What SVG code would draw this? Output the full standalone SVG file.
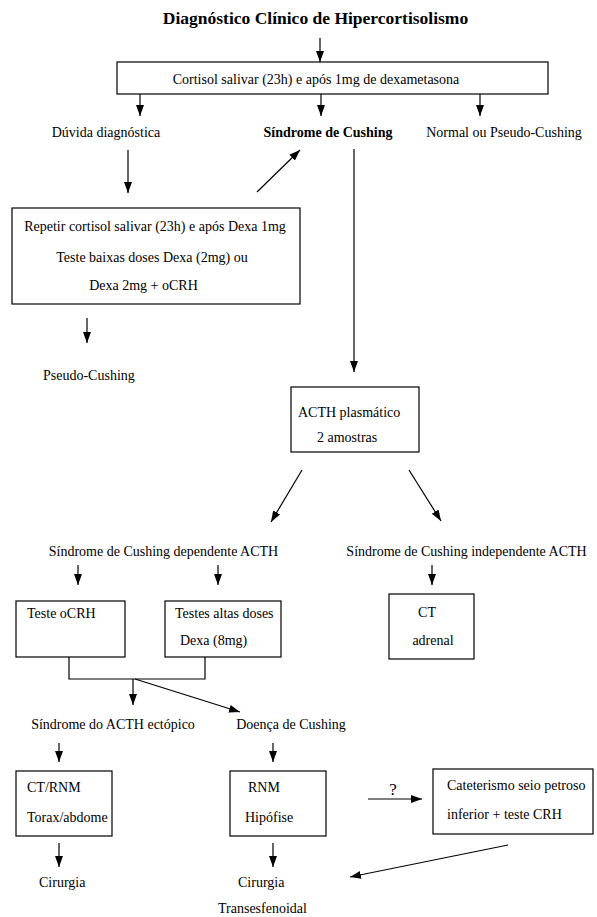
<svg xmlns="http://www.w3.org/2000/svg" width="597" height="917" viewBox="0 0 597 917">
<defs>
<marker id="ah" markerUnits="userSpaceOnUse" markerWidth="11" markerHeight="10" viewBox="0 0 11 10" refX="11" refY="5" orient="auto">
<path d="M0,1 L11,5 L0,9 Z" fill="#000"/>
</marker>
<style>
text{font-family:"Liberation Serif","Times New Roman",serif;font-size:14px;fill:#000}
.b{font-weight:bold}
.m{text-anchor:middle}
rect{fill:#fff;stroke:#000;stroke-width:1.2}
.c line,.c polyline{stroke:#000;stroke-width:1.2;fill:none}
.a{marker-end:url(#ah)}
</style>
</defs>
<rect x="0" y="0" width="597" height="917" style="fill:#fff;stroke:none"/>
<text class="b m" x="315.5" y="24" style="font-size:17.5px">Diagnóstico Clínico de Hipercortisolismo</text>
<g class="c" id="connectors">
<line class="a" x1="320" y1="38" x2="320" y2="62"/>
<line class="a" x1="140" y1="94" x2="140" y2="116"/>
<line class="a" x1="321" y1="94" x2="321" y2="116"/>
<line class="a" x1="480" y1="94" x2="480" y2="116"/>
<line class="a" x1="128" y1="150" x2="128" y2="193"/>
<line class="a" x1="257" y1="192" x2="300" y2="150"/>
<line class="a" x1="354" y1="149" x2="354" y2="372"/>
<line class="a" x1="87" y1="318" x2="87" y2="343"/>
<line class="a" x1="302" y1="470" x2="271" y2="522"/>
<line class="a" x1="409" y1="470" x2="441" y2="521"/>
<line class="a" x1="78" y1="565" x2="78" y2="585"/>
<line class="a" x1="218" y1="565" x2="218" y2="585"/>
<line class="a" x1="432" y1="565" x2="432" y2="585"/>
<polyline points="69,657 69,679 205,679 205,657"/>
<line class="a" x1="133" y1="679" x2="133" y2="705"/>
<line class="a" x1="135" y1="679" x2="240" y2="712"/>
<line class="a" x1="59" y1="743" x2="59" y2="762"/>
<line class="a" x1="273" y1="743" x2="273" y2="762"/>
<line class="a" x1="368" y1="799" x2="422" y2="799"/>
<line class="a" x1="59" y1="843" x2="59" y2="867"/>
<line class="a" x1="273" y1="843" x2="273" y2="867"/>
<line class="a" x1="508" y1="845" x2="350" y2="877"/>
</g>
<g id="n-cortisol"><rect x="117" y="62" width="431" height="32"/><text class="m" x="316" y="84">Cortisol salivar (23h) e após 1mg de dexametasona</text></g>
<g id="n-duvida"><text class="m" x="106" y="137">Dúvida diagnóstica</text></g>
<g id="n-sindrome"><text class="b m" x="328" y="137">Síndrome de Cushing</text></g>
<g id="n-normal"><text class="m" x="504" y="137">Normal ou Pseudo-Cushing</text></g>
<g id="n-repetir"><rect x="12" y="208" width="288" height="96"/>
<text class="m" x="155" y="231">Repetir cortisol salivar (23h) e após Dexa 1mg</text>
<text class="m" x="152" y="262">Teste baixas doses Dexa (2mg) ou</text>
<text class="m" x="143.5" y="290">Dexa 2mg + oCRH</text></g>
<g id="n-pseudo"><text x="43" y="380">Pseudo-Cushing</text></g>
<g id="n-acth"><rect x="291" y="387" width="128" height="65"/>
<text x="298" y="417">ACTH plasmático</text>
<text x="317" y="442">2 amostras</text></g>
<g id="n-dep"><text class="m" x="163.5" y="556">Síndrome de Cushing dependente ACTH</text></g>
<g id="n-indep"><text class="m" x="466.5" y="556">Síndrome de Cushing independente ACTH</text></g>
<g id="n-ocrh"><rect x="16" y="601" width="109" height="56"/><text x="27" y="618">Teste oCRH</text></g>
<g id="n-altas"><rect x="165" y="601" width="116" height="56"/><text x="175" y="618">Testes altas doses</text><text x="180" y="645">Dexa (8mg)</text></g>
<g id="n-ct"><rect x="389" y="594" width="85" height="65"/><text class="m" x="427" y="617">CT</text><text class="m" x="433" y="645">adrenal</text></g>
<g id="n-ectopico"><text class="m" x="113" y="729">Síndrome do ACTH ectópico</text></g>
<g id="n-doenca"><text class="m" x="291" y="729">Doença de Cushing</text></g>
<g id="n-ctrnm"><rect x="16" y="771" width="96" height="65"/><text x="27" y="792">CT/RNM</text><text x="27" y="822">Torax/abdome</text></g>
<g id="n-rnm"><rect x="230" y="771" width="96" height="65"/><text x="248" y="792">RNM</text><text x="245" y="822">Hipófise</text></g>
<g id="n-q"><text class="m" x="393" y="795" style="font-size:17px">?</text></g>
<g id="n-cat"><rect x="433" y="769" width="160" height="65"/><text x="447" y="790">Cateterismo seio petroso</text><text x="447" y="819">inferior + teste CRH</text></g>
<g id="n-cir1"><text x="39" y="887">Cirurgia</text></g>
<g id="n-cir2"><text x="238" y="887">Cirurgia</text><text x="218" y="913">Transesfenoidal</text></g>
</svg>
